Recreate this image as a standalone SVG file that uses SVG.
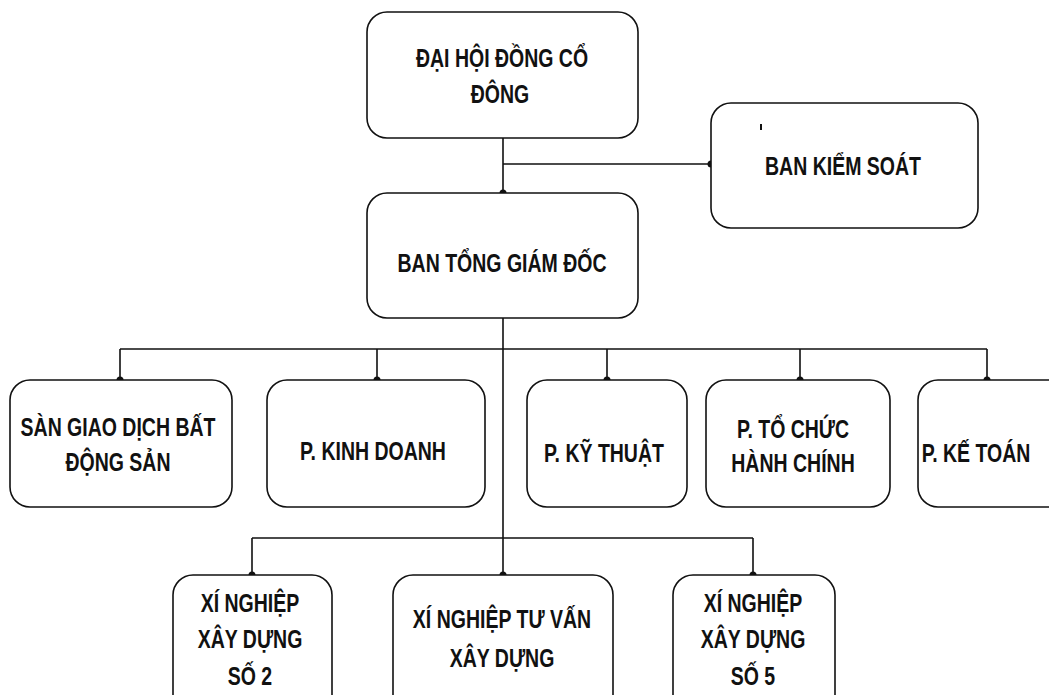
<svg xmlns="http://www.w3.org/2000/svg" width="1049" height="695" viewBox="0 0 1049 695">
<style>
.box{fill:#fff;stroke:#111;stroke-width:1.6}
.t{font-family:"Liberation Sans",Arial,sans-serif;font-weight:bold;font-size:25px;fill:#111;text-anchor:middle}
.ln{stroke:#111;stroke-width:1.6;fill:none}
.dot{fill:#111}
</style>
<rect width="1049" height="695" fill="#fff"/>
<g id="connectors">
<path class="ln" d="M503 137V193M503 164H711M503 318V575M120 349H987M120 349V380M377 349V380M607 349V380M800 349V380M987 349V380M252 538H753M252 538V575M753 538V575"/>
<circle class="dot" cx="503" cy="193" r="3.5"/>
<circle class="dot" cx="711" cy="164" r="3.5"/>
<circle class="dot" cx="120" cy="380" r="3.5"/>
<circle class="dot" cx="377" cy="380" r="3.5"/>
<circle class="dot" cx="607" cy="380" r="3.5"/>
<circle class="dot" cx="800" cy="380" r="3.5"/>
<circle class="dot" cx="987" cy="380" r="3.5"/>
<circle class="dot" cx="252" cy="575" r="3.5"/>
<circle class="dot" cx="503" cy="575" r="3.5"/>
<circle class="dot" cx="753" cy="575" r="3.5"/>
</g>
<g id="dhdcd">
<rect class="box" x="367" y="12" width="271" height="126" rx="20"/>
<text class="t" transform="translate(502 67) scale(0.78 1)">ĐẠI HỘI ĐỒNG CỔ</text>
<text class="t" transform="translate(500 103) scale(0.78 1)">ĐÔNG</text>
</g>
<g id="bks">
<rect class="box" x="711" y="103" width="267" height="125" rx="20"/>
<rect x="760" y="124" width="2" height="6" fill="#111"/>
<text class="t" transform="translate(843 175) scale(0.78 1)">BAN KIỂM SOÁT</text>
</g>
<g id="btgd">
<rect class="box" x="367" y="193" width="271" height="125" rx="20"/>
<text class="t" transform="translate(502 272) scale(0.78 1)">BAN TỔNG GIÁM ĐỐC</text>
</g>
<g id="san">
<rect class="box" x="10" y="380" width="222" height="127" rx="20"/>
<text class="t" transform="translate(118 436) scale(0.78 1)">SÀN GIAO DỊCH BẤT</text>
<text class="t" transform="translate(118 471) scale(0.78 1)">ĐỘNG SẢN</text>
</g>
<g id="kinhdoanh">
<rect class="box" x="267" y="380" width="218" height="127" rx="20"/>
<text class="t" transform="translate(373 460) scale(0.78 1)">P. KINH DOANH</text>
</g>
<g id="kythuat">
<rect class="box" x="527" y="380" width="160" height="127" rx="20"/>
<text class="t" transform="translate(604 462) scale(0.78 1)">P. KỸ THUẬT</text>
</g>
<g id="tochuc">
<rect class="box" x="706" y="380" width="184" height="127" rx="20"/>
<text class="t" transform="translate(793 438) scale(0.78 1)">P. TỔ CHỨC</text>
<text class="t" transform="translate(793 472) scale(0.78 1)">HÀNH CHÍNH</text>
</g>
<g id="ketoan">
<rect class="box" x="918" y="380" width="150" height="127" rx="20"/>
<text class="t" transform="translate(976 462) scale(0.78 1)">P. KẾ TOÁN</text>
</g>
<g id="xn2">
<rect class="box" x="173" y="575" width="159" height="150" rx="20"/>
<text class="t" transform="translate(250 612) scale(0.78 1)">XÍ NGHIỆP</text>
<text class="t" transform="translate(250 648) scale(0.78 1)">XÂY DỰNG</text>
<text class="t" transform="translate(250 685) scale(0.78 1)">SỐ 2</text>
</g>
<g id="xntv">
<rect class="box" x="393" y="575" width="220" height="150" rx="20"/>
<text class="t" transform="translate(502 628) scale(0.78 1)">XÍ NGHIỆP TƯ VẤN</text>
<text class="t" transform="translate(502 667) scale(0.78 1)">XÂY DỰNG</text>
</g>
<g id="xn5">
<rect class="box" x="673" y="575" width="162" height="150" rx="20"/>
<text class="t" transform="translate(753 612) scale(0.78 1)">XÍ NGHIỆP</text>
<text class="t" transform="translate(753 648) scale(0.78 1)">XÂY DỰNG</text>
<text class="t" transform="translate(753 685) scale(0.78 1)">SỐ 5</text>
</g>
</svg>
